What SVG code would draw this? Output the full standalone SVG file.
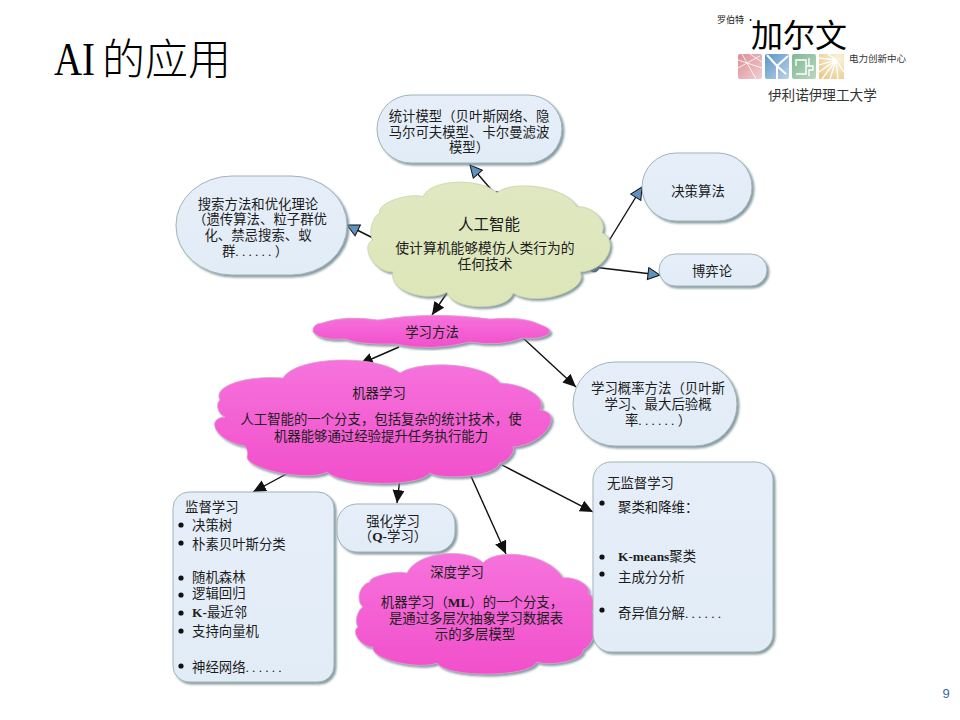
<svg xmlns="http://www.w3.org/2000/svg" width="960" height="720" viewBox="0 0 960 720">
<style>
text{font-family:"Noto Sans CJK SC","Liberation Serif",sans-serif;font-size:13.4px;fill:#1c1c1c;text-anchor:middle;text-spacing-trim:space-all}
.l{text-anchor:start}
.box{fill:url(#blue);stroke:#a3b3b8;stroke-width:1;filter:url(#sh)}
.pink{fill:url(#pink);stroke:#d9a6cf;stroke-width:.8;filter:url(#sh)}
.c{stroke:#111;stroke-width:1.4;fill:none}
.a{marker-end:url(#ab)}
.b{marker-end:url(#au)}
.dot{fill:#111}
.lat{font-family:"Liberation Serif","Noto Sans CJK SC",serif;font-weight:700}
.el{font-family:"Liberation Serif",serif;letter-spacing:3.2px}
</style>
<defs>
<linearGradient id="blue" x1="0" y1="0" x2="0" y2="1"><stop offset="0" stop-color="#e6eff9"/><stop offset="1" stop-color="#e2ecf6"/></linearGradient>
<linearGradient id="pink" x1="0" y1="0" x2="0" y2="1"><stop offset="0" stop-color="#f673dc"/><stop offset="1" stop-color="#f14fcb"/></linearGradient>
<linearGradient id="green" x1="0" y1="0" x2="0" y2="1"><stop offset="0" stop-color="#e0e8c2"/><stop offset="1" stop-color="#dde6b8"/></linearGradient>
<linearGradient id="i1" x1="0" y1="0" x2="1" y2="1"><stop offset="0" stop-color="#dd8d94"/><stop offset="1" stop-color="#f0cfd2"/></linearGradient>
<linearGradient id="i2" x1="0" y1="0" x2="1" y2="1"><stop offset="0" stop-color="#5b94c6"/><stop offset="1" stop-color="#bcd3e8"/></linearGradient>
<linearGradient id="i3" x1="0" y1="0" x2="1" y2="1"><stop offset="0" stop-color="#7fb893"/><stop offset="1" stop-color="#b9d8c2"/></linearGradient>
<radialGradient id="i4" cx=".75" cy=".2" r="1"><stop offset="0" stop-color="#fbf3da"/><stop offset="1" stop-color="#e8c98a"/></radialGradient>
<filter id="sh" x="-5%" y="-5%" width="112%" height="115%"><feDropShadow dx="2" dy="2" stdDeviation="1" flood-color="#6f8a90" flood-opacity=".85"/></filter>
<marker id="ab" markerUnits="userSpaceOnUse" markerWidth="16" markerHeight="14" refX="13" refY="6" orient="auto"><path d="M0 0L13 6L0 12Z" fill="#111"/></marker>
<marker id="au" markerUnits="userSpaceOnUse" markerWidth="16" markerHeight="16" refX="13" refY="7" orient="auto"><path d="M1 1L13 7L1 13Z" fill="#5f92bf" stroke="#111" stroke-width="1"/></marker>
</defs>
<rect width="960" height="720" fill="#fff"/>
<g id="title"><text class="l" x="54" y="75" textLength="41" lengthAdjust="spacingAndGlyphs" style="font-family:'Liberation Serif',serif;font-size:46px;fill:#000">AI</text><text class="l" x="102" y="75" style="font-size:43px;font-weight:300;fill:#000">的应用</text></g>
<g id="logo">
<text class="l" x="717" y="23" style="font-size:9px">罗伯特 ·</text>
<text class="l" x="751" y="47" style="font-size:32px;fill:#000">加尔文</text>
<rect x="738" y="54" width="24" height="25" rx="2" fill="url(#i1)"/><path d="M738 60L762 68M742 54L756 79M750 54L762 62M738 68L760 56" stroke="#fff" stroke-width=".8" fill="none"/>
<rect x="765" y="54" width="24" height="25" rx="2" fill="url(#i2)"/><path d="M777 79V66M777 66L767 55M777 66L788 56M777 66L786 74" stroke="#fff" stroke-width="2" fill="none"/>
<rect x="792" y="54" width="24" height="25" rx="2" fill="url(#i3)"/><path d="M796 74H806V60H796V66M809 58V66M806 66H813V70H809V76" stroke="#fff" stroke-width="1.4" fill="none"/>
<rect x="819" y="54" width="25" height="25" fill="url(#i4)"/><path d="M836 60L819 58M836 60L819 65M836 60L819 72M836 60L822 79M836 60L830 79M836 60L838 79M836 60L844 72M836 60L828 54" stroke="#fff" stroke-width="1.3" fill="none"/>
<text class="l" x="849" y="62" style="font-size:9.5px;fill:#333">电力创新中心</text>
<text class="l" x="768" y="100" style="font-size:13.6px;fill:#333">伊利诺伊理工大学</text>
<rect x="768" y="87" width="7" height="3.5" fill="#fff"/>
</g>
<g id="connectors">
<path class="c b" d="M495 194L470 165"/>
<path class="c b" d="M377 240L347 225"/>
<path class="c b" d="M607 244L642 187"/>
<path class="c b" d="M593 267L660 275"/>
<path class="c a" d="M447 293L432 315"/>
<path class="c a" d="M399 347L360 364"/>
<path class="c a" d="M523 338L576 387"/>
<path class="c a" d="M290 472L253 492"/>
<path class="c a" d="M400 478L397 503"/>
<path class="c a" d="M470 474L506 554"/>
<path class="c a" d="M502 465L593 512"/>
</g>
<g id="n-stat"><rect class="box" x="377" y="95" width="185" height="68" rx="34" ry="34"/><text x="469" y="121">统计模型（贝叶斯网络、隐</text><text x="469" y="137">马尔可夫模型、卡尔曼滤波</text><text x="469" y="152">模型）</text></g>
<g id="n-search"><rect class="box" x="176" y="176" width="171" height="99" rx="56" ry="49"/><text x="258" y="209">搜索方法和优化理论</text><text x="260" y="224">（遗传算法、粒子群优</text><text x="258" y="240">化、禁忌搜索、蚁</text><text x="255" y="256">群<tspan class="el">......</tspan>）</text></g>
<g id="ends"><circle cx="497" cy="195" r="3.500" fill="#5f92bf" stroke="#234" stroke-width=".6"/><circle cx="376" cy="239" r="3.500" fill="#5f92bf" stroke="#234" stroke-width=".6"/><circle cx="594" cy="267" r="5" fill="#2f5f86" stroke="#123" stroke-width=".6"/></g>
<g id="n-ai"><path filter="url(#sh)" fill="url(#green)" stroke="#c9d3a6" stroke-width=".8" d="M380 213C376 203 410 192 423 197C430 178 482 178 497 193C510 180 565 185 577 207C590 205 608 220 602 233C618 238 610 270 580 272C590 290 537 308 513 293C508 312 452 311 447 292C430 303 388 292 393 272C373 272 360 245 373 240C368 235 372 216 380 213Z"/><text x="489" y="230" style="font-size:15.5px">人工智能</text><text x="485" y="253" style="font-size:13.8px">使计算机能够模仿人类行为的</text><text x="485" y="269" style="font-size:13.8px">任何技术</text></g>
<g id="n-method"><path class="pink" d="M313 332Q312 324 322 323Q345 315 378 320Q430 311 490 319Q525 316 541 325Q553 329 549 334Q540 340 523 338Q500 347 470 342Q430 352 395 344Q360 345 345 339Q320 341 313 332Z"/><text x="432" y="337">学习方法</text></g>
<g id="n-ml"><path class="pink" d="M220 400C212 385 250 375 283 378C296 356 375 354 400 373C420 360 485 362 500 383C525 384 548 398 540 410C565 412 545 445 513 447C516 452 506 463 500 463C495 478 440 480 430 473C420 488 340 486 327 472C310 482 248 470 247 457Q249 451 245 446C215 441 205 418 225 417C218 414 215 404 220 400Z"/><text x="379" y="398">机器学习</text><text x="381" y="424">人工智能的一个分支，包括复杂的统计技术，使</text><text x="381" y="441">机器能够通过经验提升任务执行能力</text></g>
<g id="n-prob"><rect class="box" x="573" y="362" width="164" height="84" rx="42" ry="42"/><text x="658" y="393">学习概率方法（贝叶斯</text><text x="658" y="409">学习、最大后验概</text><text x="658" y="425">率<tspan class="el">......</tspan>）</text></g>
<g id="n-decision"><rect class="box" x="642" y="153" width="110" height="68" rx="34" ry="34"/><text x="698" y="196">决策算法</text></g>
<g id="n-game"><rect class="box" x="659" y="254" width="108" height="32" rx="16" ry="16"/><text x="712" y="276">博弈论</text></g>
<g id="n-sup"><rect class="box" x="173" y="492" width="161" height="190" rx="16" ry="16"/><text class="l" x="185" y="512">监督学习</text>
<circle class="dot" cx="181" cy="525" r="2.600"/><text class="l" x="192" y="530">决策树</text>
<circle class="dot" cx="181" cy="543" r="2.600"/><text class="l" x="192" y="549">朴素贝叶斯分类</text>
<circle class="dot" cx="181" cy="578" r="2.600"/><text class="l" x="192" y="582">随机森林</text>
<circle class="dot" cx="181" cy="595" r="2.600"/><text class="l" x="192" y="598">逻辑回归</text>
<circle class="dot" cx="181" cy="613" r="2.600"/><text class="l" x="192" y="617"><tspan class="lat">K-</tspan>最近邻</text>
<circle class="dot" cx="181" cy="631" r="2.600"/><text class="l" x="192" y="636">支持向量机</text>
<circle class="dot" cx="181" cy="666" r="2.600"/><text class="l" x="192" y="672">神经网络<tspan class="el">......</tspan></text></g>
<g id="n-rl"><rect class="box" x="337" y="504" width="118" height="48" rx="20" ry="20"/><text x="393" y="526">强化学习</text><text x="393" y="541">（<tspan class="lat">Q-</tspan>学习）</text></g>
<g id="n-dl"><path class="pink" d="M370 582C368 577 395 570 407 573C418 550 470 548 483 563C495 548 548 552 563 578C575 576 592 586 588 593C594 596 596 606 592 612C600 620 595 645 583 650C585 660 550 667 537 662C530 678 445 678 437 663C420 670 370 660 373 647C362 648 350 632 358 627C354 622 358 609 363 607C355 600 360 584 370 582Z"/><text x="457" y="577">深度学习</text><text x="472" y="607">机器学习（<tspan class="lat">ML</tspan>）的一个分支，</text><text x="476" y="623">是通过多层次抽象学习数据表</text><text x="475" y="639">示的多层模型</text></g>
<g id="n-unsup"><rect class="box" x="593" y="462" width="180" height="190" rx="18" ry="18"/><text class="l" x="607" y="488">无监督学习</text>
<circle class="dot" cx="602" cy="503" r="2.600"/><text class="l" x="618" y="512">聚类和降维：</text>
<circle class="dot" cx="602" cy="557" r="2.600"/><text class="l" x="618" y="561"><tspan class="lat">K-means</tspan>聚类</text>
<circle class="dot" cx="602" cy="574" r="2.600"/><text class="l" x="618" y="582">主成分分析</text>
<circle class="dot" cx="602" cy="610" r="2.600"/><text class="l" x="618" y="618">奇异值分解<tspan class="el">......</tspan></text></g>
<text x="946" y="698" style="font-family:'Liberation Sans',sans-serif;font-size:13px;fill:#3b6a9a">9</text>
</svg>
